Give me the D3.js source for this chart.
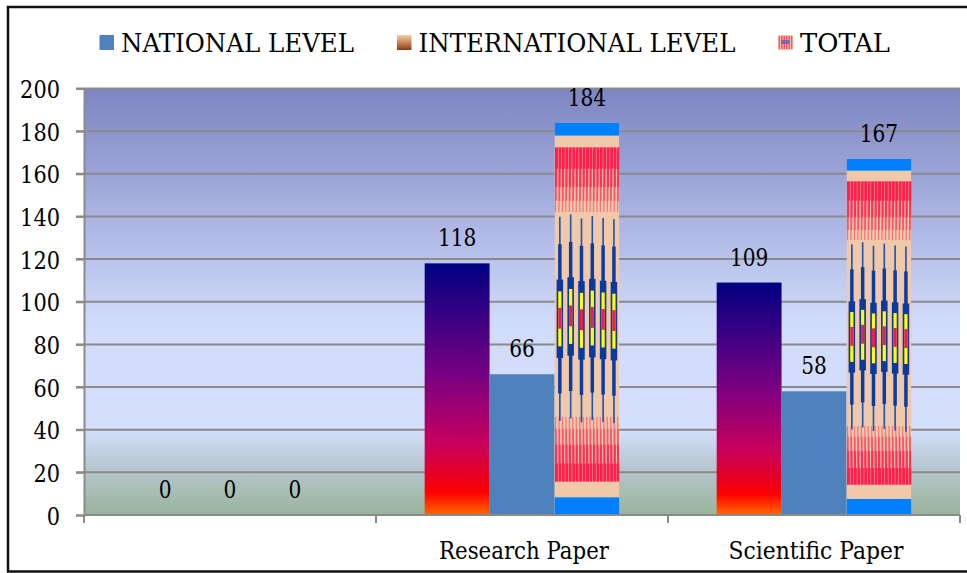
<!DOCTYPE html>
<html><head><meta charset="utf-8">
<script src="https://cdn.jsdelivr.net/npm/d3@7"></script>
<style>html,body{margin:0;padding:0;background:#fff;overflow:hidden}</style>
</head><body>
<svg id="c" width="967" height="573"></svg>
<script>
const categories = ["", "Research Paper", "Scientific Paper"];
const seriesNames = ["NATIONAL LEVEL", "INTERNATIONAL LEVEL", "TOTAL"];
const nationalLevel = [0, 118, 109];
const internationalLevel = [0, 66, 58];
const totalLevel = [0, 184, 167];
const yTicks = [0, 20, 40, 60, 80, 100, 120, 140, 160, 180, 200];

const values = [nationalLevel, internationalLevel, totalLevel];
const data = categories.map((c, i) => ({cat: c, vals: values.map((v, s) => ({s, v: v[i]}))}));

const svg = d3.select("#c");
const FONT = '"DejaVu Serif"';
// condense the wide serif to Times-like widths
function fit(sel, width) { return sel.attr("textLength", width).attr("lengthAdjust", "spacingAndGlyphs"); }

const L = 84, R = 960, T = 88.5, B = 515;

const defs = svg.append("defs");
const bg = defs.append("linearGradient").attr("id","bg").attr("x1",0).attr("y1",0).attr("x2",0).attr("y2",1);
[[0,"#7e85c1"],[0.35,"#b2bbe7"],[0.55,"#d1dbfa"],[0.8,"#d4dffc"],[0.87,"#bccad8"],[1,"#9ab49b"]]
  .forEach(([o,c]) => bg.append("stop").attr("offset",o).attr("stop-color",c));
const fire = defs.append("linearGradient").attr("id","fire").attr("x1",0).attr("y1",0).attr("x2",0).attr("y2",1);
[[0,"#000082"],[0.45,"#7a0082"],[0.72,"#c8005c"],[0.85,"#e8001e"],[0.91,"#ff0000"],[1,"#ff6a00"]]
  .forEach(([o,c]) => fire.append("stop").attr("offset",o).attr("stop-color",c));
const brown = defs.append("linearGradient").attr("id","brown").attr("x1",0).attr("y1",0).attr("x2",0).attr("y2",1);
[[0,"#f2cfa8"],[0.5,"#c98658"],[1,"#8a3a12"]].forEach(([o,c]) => brown.append("stop").attr("offset",o).attr("stop-color",c));

svg.append("rect").attr("x",8).attr("y",7).attr("width",980).attr("height",564.5)
  .attr("fill","#fff").attr("stroke","#111").attr("stroke-width",2.5);

const y = d3.scaleLinear().domain([0,200]).range([B,T]);
const x0 = d3.scaleBand().domain(categories).range([L,R]).paddingInner(0).paddingOuter(0);
const x1 = d3.scaleBand().domain([0,1,2]).range([0,x0.bandwidth()]).paddingInner(0).paddingOuter(0.75);

svg.append("rect").attr("x",L).attr("y",y(200)).attr("width",R-L).attr("height",y(0)-y(200)).attr("fill","url(#bg)");

svg.append("g").selectAll("line").data(yTicks.filter(t=>t>0)).join("line")
  .attr("x1",L-8).attr("x2",R).attr("y1",d=>y(d)).attr("y2",d=>y(d))
  .attr("stroke","#8a8a8a").attr("stroke-width",2);

const yAxis = d3.axisLeft(y).tickValues(yTicks).tickSize(8).tickPadding(16);
const gy = svg.append("g").attr("transform",`translate(${L},0)`).call(yAxis);
gy.select(".domain").attr("stroke","#8a8a8a").attr("stroke-width",2);
gy.selectAll(".tick line").attr("stroke","#8a8a8a").attr("stroke-width",2);
gy.selectAll(".tick text").style("font-family",FONT).attr("font-size",25).attr("fill","#000")
  .attr("dy","0.36em").each(function(d){ fit(d3.select(this), String(d).length*13.3); });

function totalBar(g, bx, by, w, h, id) {
  defs.append("clipPath").attr("id",id).append("rect").attr("x",bx).attr("y",by).attr("width",w).attr("height",h);
  const gg = g.append("g").attr("clip-path",`url(#${id})`);
  gg.append("rect").attr("x",bx).attr("y",by).attr("width",w).attr("height",h).attr("fill","#efc9aa");
  const Y = f => by + f*h;
  gg.append("rect").attr("x",bx).attr("y",Y(0)).attr("width",w).attr("height",0.033*h).attr("fill","#0080ff");
  gg.append("rect").attr("x",bx).attr("y",Y(0.955)).attr("width",w).attr("height",0.045*h).attr("fill","#0080ff");
  const rows = [
    [0.063,0.118,3.0,1],[0.118,0.165,2.3,0.9],[0.165,0.2,1.8,0.7],[0.2,0.228,1.2,0.5],
    [0.75,0.78,1.2,0.5],[0.78,0.82,1.8,0.7],[0.82,0.868,2.3,0.9],[0.868,0.915,3.0,1]
  ];
  const xs = d3.range(bx+0.5, bx+w, 3.45);
  rows.forEach(([a,b,sw,op]) => {
    gg.append("g").selectAll("rect").data(xs).join("rect")
      .attr("x",d=>d).attr("y",Y(a)).attr("width",sw).attr("height",Y(b)-Y(a))
      .attr("fill","#ff1f4f").attr("opacity",op);
  });
  const cols = d3.range(6).map(i => bx + w*(i+0.5)/6);
  const layers = [
    [0.24,0.76,1.6,"#2050b0"],[0.31,0.69,3.5,"#0c3c9f"],[0.40,0.60,6.5,"#0a3a9e"],
    [0.43,0.57,3.2,"#ffff00"],[0.472,0.525,3.2,"#e8204a"]
  ];
  cols.forEach((cx,i) => {
    const off = [0,-0.006,0.004,-0.002,0.003,0.006][i];
    layers.forEach(([a,b,sw,c]) => {
      gg.append("rect").attr("x",cx-sw/2).attr("y",Y(a+off)).attr("width",sw).attr("height",Y(b)-Y(a)).attr("fill",c);
    });
  });
}

const groups = svg.append("g").selectAll("g").data(data).join("g")
  .attr("transform",d=>`translate(${x0(d.cat)},0)`);
groups.each(function(d, gi){
  const g = d3.select(this);
  d.vals.forEach(v => {
    const bx = x1(v.s), w = x1.bandwidth(), by = y(v.v), h = y(0)-y(v.v);
    if (h > 0) {
      if (v.s === 0) g.append("rect").attr("x",bx).attr("y",by).attr("width",w).attr("height",h).attr("fill","url(#fire)");
      else if (v.s === 1) g.append("rect").attr("x",bx).attr("y",by).attr("width",w).attr("height",h).attr("fill","#4f81bd");
      else totalBar(g, bx, by, w, h, "clipTot" + gi);
    }
    const t = g.append("text").attr("x",bx+w/2).attr("y",by-17).attr("text-anchor","middle")
      .style("font-family",FONT).attr("font-size",25).attr("fill","#000").text(v.v);
    fit(t, String(v.v).length*12.8);
  });
});

svg.append("line").attr("x1",L).attr("x2",R).attr("y1",B).attr("y2",B).attr("stroke","#8a8a8a").attr("stroke-width",2);
const edges = categories.map(c => x0(c)).concat([R]);
svg.append("g").selectAll("line").data(edges).join("line")
  .attr("x1",d=>d).attr("x2",d=>d).attr("y1",B).attr("y2",B+8).attr("stroke","#8a8a8a").attr("stroke-width",2);
const catWidths = [0, 170, 175];
svg.append("g").selectAll("text").data(categories).join("text")
  .attr("x",d=>x0(d)+x0.bandwidth()/2+2).attr("y",559).attr("text-anchor","middle")
  .style("font-family",FONT).attr("font-size",24).attr("fill","#000").text(d=>d)
  .each(function(d,i){ if (catWidths[i]) fit(d3.select(this), catWidths[i]); });

const legendWidths = [233, 317, 90];
const lg = svg.append("g");
let lx = 99.5;
seriesNames.forEach((name,i) => {
  const sw = lg.append("g");
  if (i === 0) sw.append("rect").attr("x",lx).attr("y",35).attr("width",14.5).attr("height",15).attr("fill","#4f81bd");
  else if (i === 1) sw.append("rect").attr("x",lx).attr("y",35).attr("width",14.5).attr("height",15).attr("fill","url(#brown)");
  else {
    sw.append("rect").attr("x",lx).attr("y",35).attr("width",14).attr("height",15).attr("fill","#efc9aa");
    sw.append("g").selectAll("rect").data(d3.range(0,14,2.5)).join("rect")
      .attr("x",d=>lx+d).attr("y",36).attr("width",1.5).attr("height",13).attr("fill","#ff4f6f");
    sw.append("rect").attr("x",lx+3).attr("y",40).attr("width",8).attr("height",4).attr("fill","#4060c0").attr("opacity",0.7);
  }
  const t = lg.append("text").attr("x",lx+21.5).attr("y",52).style("font-family",FONT)
    .attr("font-size",26).attr("fill","#000").text(name);
  fit(t, legendWidths[i]);
  lx = lx + 21.5 + legendWidths[i] + 43;
});
</script>
</body></html>
